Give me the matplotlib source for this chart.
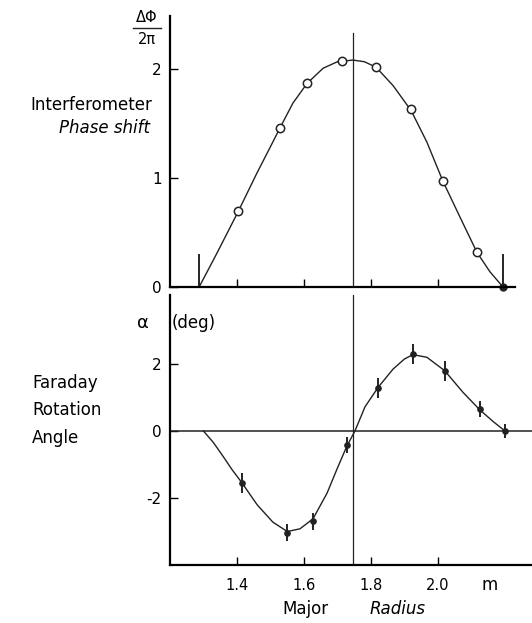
import matplotlib
matplotlib.use("Agg")
import matplotlib.pyplot as plt
from matplotlib.lines import Line2D

# interferometer phase shift (units of 2 pi) vs major radius (m)
phase_R = [1.403, 1.528, 1.609, 1.713, 1.815, 1.92, 2.015, 2.116]
phase_val = [0.70, 1.46, 1.87, 2.08, 2.02, 1.64, 0.97, 0.32]
edge_R = [2.194]
edge_val = [0.0]

phase_curve_R = [1.287, 1.34, 1.403, 1.46, 1.50, 1.528, 1.567, 1.609, 1.657, 1.70, 1.746,
                 1.78, 1.815, 1.866, 1.92, 1.967, 2.015, 2.066, 2.116, 2.155, 2.194]
phase_curve = [0.0, 0.31, 0.69, 1.05, 1.29, 1.46, 1.69, 1.87, 2.01, 2.07, 2.085,
               2.07, 2.02, 1.85, 1.62, 1.33, 0.97, 0.64, 0.32, 0.14, 0.0]

# faraday rotation angle (deg)
far_R = [1.415, 1.549, 1.627, 1.728, 1.821, 1.925, 2.02, 2.125, 2.20]
far_val = [-1.55, -3.04, -2.70, -0.42, 1.28, 2.30, 1.80, 0.66, 0.0]
far_err = [0.3, 0.25, 0.25, 0.25, 0.3, 0.3, 0.3, 0.25, 0.2]

far_curve_R = [1.30, 1.33, 1.358, 1.385, 1.415, 1.46, 1.507, 1.55, 1.588, 1.627, 1.669, 1.70,
               1.728, 1.752, 1.782, 1.821, 1.866, 1.90, 1.925, 1.967, 2.02, 2.075, 2.125,
               2.165, 2.20]
far_curve = [0.0, -0.35, -0.75, -1.15, -1.55, -2.2, -2.72, -3.0, -2.92, -2.62, -1.85, -1.1,
             -0.45, 0.0, 0.72, 1.3, 1.85, 2.15, 2.28, 2.2, 1.8, 1.15, 0.63, 0.28, 0.0]

xticks = [1.4, 1.6, 1.8, 2.0]
xticklabels = ["1.4", "1.6", "1.8", "2.0"]
plasma_edges = [1.287, 2.194]
axis_R = 1.745

W, H = 532, 623
fig = plt.figure(figsize=(W / 100, H / 100), dpi=100)
plt.rcParams['font.family'] = ['DejaVu Sans']

ink = '#222222'
xlim = (1.2, 2.2806)

# top panel
ax1 = fig.add_axes([170 / W, 1 - 287 / H, 362 / W, 271 / H])
ax1.set_xlim(*xlim)
ax1.set_ylim(0, 2.49)
for s in ['top', 'right']:
    ax1.spines[s].set_visible(False)
ax1.spines['left'].set_linewidth(1.6)
ax1.spines['bottom'].set_linewidth(1.6)
ax1.spines['bottom'].set_bounds(1.2, 2.23)
ax1.plot(phase_curve_R, phase_curve, color=ink, lw=1.0)
ax1.plot(phase_R, phase_val, 'o', mfc='white', mec=ink, ms=6, mew=1.1)
ax1.plot(edge_R, edge_val, 'o', color=ink, ms=5, clip_on=False)
ax1.axvline(axis_R, ymax=2.33 / 2.49, color=ink, lw=0.9)
ax1.set_yticks([0, 1, 2])
ax1.set_yticklabels(['0', '1', '2'], fontsize=11)
ax1.set_xticks(xticks)
ax1.set_xticklabels([])
ax1.set_xticks(plasma_edges, minor=True)
ax1.tick_params(axis='both', direction='in', length=6, width=1, pad=6)
ax1.tick_params(axis='x', which='minor', direction='in', length=24, width=1.2)

# bottom panel
ax2 = fig.add_axes([170 / W, 1 - 565 / H, 362 / W, 270 / H])
ax2.set_xlim(*xlim)
ax2.set_ylim(-4, 4.06)
for s in ['top', 'right']:
    ax2.spines[s].set_visible(False)
ax2.spines['left'].set_linewidth(1.6)
ax2.spines['bottom'].set_linewidth(1.6)
ax2.axhline(0, color=ink, lw=1.1)
ax2.axvline(axis_R, color=ink, lw=0.9)
ax2.plot(far_curve_R, far_curve, color=ink, lw=1.0)
ax2.errorbar(far_R, far_val, yerr=far_err, fmt='o', color=ink, ms=3.8,
             elinewidth=1.4, capsize=0)
ax2.set_yticks([-2, 0, 2])
ax2.set_yticklabels(['-2', '0', '2'], fontsize=11)
ax2.set_xticks(xticks)
ax2.set_xticklabels(xticklabels, fontsize=10.5)
ax2.tick_params(axis='both', direction='in', length=6, width=1, pad=6)
ax2.tick_params(axis='x', pad=9)

# labels
fig.text(147 / W, 1 - 18 / H, 'ΔΦ', ha='center', va='center', fontsize=10.5)
fig.add_artist(Line2D([133 / W, 161 / W], [1 - 28 / H, 1 - 28 / H], color=ink, lw=1))
fig.text(147 / W, 1 - 40 / H, '2π', ha='center', va='center', fontsize=10.5)
fig.text(152 / W, 1 - 105 / H, 'Interferometer', ha='right', va='center', fontsize=12)
fig.text(150 / W, 1 - 128 / H, 'Phase shift', ha='right', va='center', fontsize=12, style='italic')
fig.text(143 / W, 1 - 323 / H, 'α', ha='center', va='center', fontsize=13)
fig.text(172 / W, 1 - 323 / H, '(deg)', ha='left', va='center', fontsize=12)
fig.text(32 / W, 1 - 383 / H, 'Faraday', ha='left', va='center', fontsize=12)
fig.text(32 / W, 1 - 410 / H, 'Rotation', ha='left', va='center', fontsize=12)
fig.text(32 / W, 1 - 438 / H, 'Angle', ha='left', va='center', fontsize=12)
fig.text(490 / W, 1 - 585 / H, 'm', ha='center', va='center', fontsize=12)
fig.text(305 / W, 1 - 609 / H, 'Major', ha='center', va='center', fontsize=12)
fig.text(398 / W, 1 - 609 / H, 'Radius', ha='center', va='center', fontsize=12, style='italic')

fig.savefig('out.png', dpi=100)
